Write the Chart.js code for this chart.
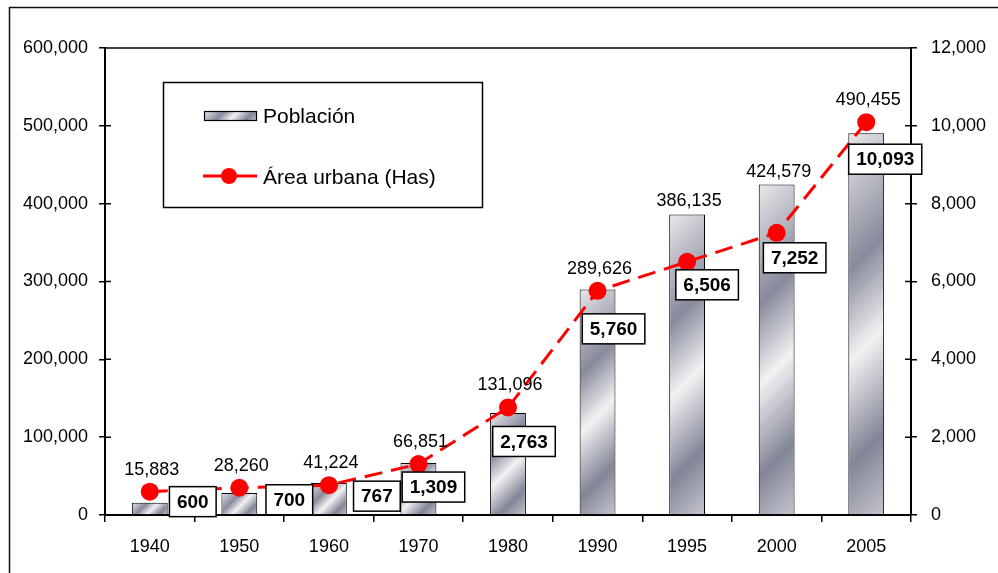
<!DOCTYPE html>
<html>
<head>
<meta charset="utf-8">
<script src="https://cdn.jsdelivr.net/npm/chart.js@4"></script>
<style>
  body { margin: 0; background: #fff; }
  canvas { display: block; }
</style>
</head>
<body>
<canvas id="popChart" width="998" height="573"></canvas>
<script>
const years = ["1940", "1950", "1960", "1970", "1980", "1990", "1995", "2000", "2005"];
const poblacion = [15883, 28260, 41224, 66851, 131096, 289626, 386135, 424579, 490455];
const areaUrbana = [600, 700, 767, 1309, 2763, 5760, 6506, 7252, 10093];
const leftTicks = [0, 100000, 200000, 300000, 400000, 500000, 600000];
const rightTicks = [0, 2000, 4000, 6000, 8000, 10000, 12000];

// where the boxed area labels sit relative to their point (hand placed in the original)
const areaLabelOffsets = [[43, 10], [50, 12], [48, 11], [15, 23], [16, 34], [16, 38], [20, 23], [18, 25], [19, 37]];

const FONT = "'Liberation Sans', Arial, sans-serif";
const fmt = function (v) { return Number(v).toLocaleString("en-US"); };

function metalGradient(ctx, left, top, w, h) {
    const d = (w + h) / 2;
    const g = ctx.createLinearGradient(left, top, left + d, top + d);
    g.addColorStop(0, "#e8e8eb");
    g.addColorStop(0.33, "#878a9b");
    g.addColorStop(0.55, "#f2f2f4");
    g.addColorStop(0.8, "#828596");
    g.addColorStop(1, "#c4c5ce");
    return g;
}

function barFill(context) {
    const chart = context.chart;
    if (!chart.chartArea || context.type !== "data") return "#a0a2b0";
    const xs = chart.scales.x, ys = chart.scales.y;
    const cx = xs.getPixelForValue(context.dataIndex);
    const w = (xs.width / years.length) * 0.4;
    const top = ys.getPixelForValue(context.raw);
    return metalGradient(chart.ctx, cx - w / 2, top, w, ys.bottom - top);
}

const extras = {
    id: "extras",
    beforeDraw(chart) {
        const c = chart.ctx;
        c.save();
        c.strokeStyle = "#111";
        c.lineWidth = 1.5;
        c.beginPath();
        c.moveTo(9.5, 573);
        c.lineTo(9.5, 7.5);
        c.lineTo(998, 7.5);
        c.stroke();
        c.restore();
    },
    afterDraw(chart) {
        const c = chart.ctx;
        const a = chart.chartArea;
        const xs = chart.scales.x, ys = chart.scales.y, ys1 = chart.scales.y1;
        c.save();

        // plot box top edge and inner halves of the y ticks
        c.strokeStyle = "#000";
        c.lineWidth = 1.5;
        c.beginPath();
        c.moveTo(a.left, a.top);
        c.lineTo(a.right, a.top);
        leftTicks.forEach(function (v) {
            const py = ys.getPixelForValue(v);
            c.moveTo(a.left, py);
            c.lineTo(a.left + 6, py);
        });
        rightTicks.forEach(function (v) {
            const py = ys1.getPixelForValue(v);
            c.moveTo(a.right - 6, py);
            c.lineTo(a.right, py);
        });
        c.stroke();

        // population labels
        c.fillStyle = "#000";
        c.font = "18px " + FONT;
        c.textAlign = "center";
        c.textBaseline = "middle";
        for (let i = 0; i < years.length; i++) {
            const cx = xs.getPixelForValue(i);
            const barTop = ys.getPixelForValue(poblacion[i]);
            const pointTop = ys1.getPixelForValue(areaUrbana[i]) - 9;
            c.fillText(fmt(poblacion[i]), cx + 2, Math.min(barTop, pointTop) - 13);
        }

        // boxed area labels
        c.font = "bold 19px " + FONT;
        for (let i = 0; i < years.length; i++) {
            const px = xs.getPixelForValue(i) + areaLabelOffsets[i][0];
            const py = ys1.getPixelForValue(areaUrbana[i]) + areaLabelOffsets[i][1];
            const text = fmt(areaUrbana[i]);
            const bw = c.measureText(text).width + 15;
            const bh = 30;
            c.fillStyle = "#fff";
            c.fillRect(px - bw / 2, py - bh / 2, bw, bh);
            c.strokeStyle = "#000";
            c.lineWidth = 1.5;
            c.strokeRect(px - bw / 2, py - bh / 2, bw, bh);
            c.fillStyle = "#000";
            c.fillText(text, px, py + 1);
        }

        // legend box
        c.fillStyle = "#fff";
        c.fillRect(163, 82, 320, 126);
        c.strokeStyle = "#000";
        c.lineWidth = 1.5;
        c.strokeRect(163.5, 82.5, 319, 125);

        c.fillStyle = metalGradient(c, 204, 111, 53, 10);
        c.fillRect(204, 111, 53, 10);
        c.lineWidth = 1.2;
        c.strokeStyle = "#000";
        c.strokeRect(204.5, 111.5, 52, 9);

        c.strokeStyle = "#ff0000";
        c.lineWidth = 3;
        c.beginPath();
        c.moveTo(203, 176);
        c.lineTo(257, 176);
        c.stroke();
        c.fillStyle = "#ff0000";
        c.beginPath();
        c.arc(229, 176, 8, 0, Math.PI * 2);
        c.fill();

        c.fillStyle = "#000";
        c.font = "21px " + FONT;
        c.textAlign = "left";
        c.fillText("Población", 263, 117);
        c.fillText("Área urbana (Has)", 263, 178);
        c.restore();
    }
};

const ctx = document.getElementById("popChart").getContext("2d");
new Chart(ctx, {
    type: "bar",
    data: {
        labels: years,
        datasets: [{
            type: "line",
            label: "Área urbana (Has)",
            data: areaUrbana,
            yAxisID: "y1",
            borderColor: "#ff0000",
            borderWidth: 3,
            borderDash: [18, 9],
            pointRadius: 9,
            pointBackgroundColor: "#ff0000",
            pointBorderWidth: 0,
            tension: 0,
            order: 1
        }, {
            label: "Población",
            data: poblacion,
            yAxisID: "y",
            backgroundColor: barFill,
            borderColor: "#000",
            borderWidth: 1,
            barPercentage: 0.4,
            categoryPercentage: 1,
            order: 2
        }]
    },
    options: {
        responsive: false,
        animation: false,
        layout: { padding: { top: 48, left: 0, right: 0, bottom: 0 } },
        plugins: {
            legend: { display: false },
            tooltip: { enabled: false }
        },
        scales: {
            x: {
                grid: { drawOnChartArea: false, tickLength: 7, color: "#000", lineWidth: 1.5 },
                border: { color: "#000", width: 2 },
                ticks: { color: "#000", font: { family: FONT, size: 18 }, padding: 14, maxRotation: 0 },
                afterFit(scale) { scale.height = 58; }
            },
            y: {
                position: "left",
                min: leftTicks[0],
                max: leftTicks[leftTicks.length - 1],
                grid: { drawOnChartArea: false, tickLength: 6, color: "#000", lineWidth: 1.5 },
                border: { color: "#000", width: 2 },
                ticks: {
                    stepSize: leftTicks[1] - leftTicks[0],
                    color: "#000",
                    font: { family: FONT, size: 18 },
                    padding: 11,
                    callback: function (v) { return fmt(v); }
                },
                afterFit(scale) { scale.width = 105; }
            },
            y1: {
                position: "right",
                min: rightTicks[0],
                max: rightTicks[rightTicks.length - 1],
                grid: { drawOnChartArea: false, tickLength: 6, color: "#000", lineWidth: 1.5 },
                border: { color: "#000", width: 2 },
                ticks: {
                    stepSize: rightTicks[1] - rightTicks[0],
                    color: "#000",
                    font: { family: FONT, size: 18 },
                    padding: 14,
                    callback: function (v) { return fmt(v); }
                },
                afterFit(scale) { scale.width = 87; }
            }
        }
    },
    plugins: [extras]
});
</script>
</body>
</html>
